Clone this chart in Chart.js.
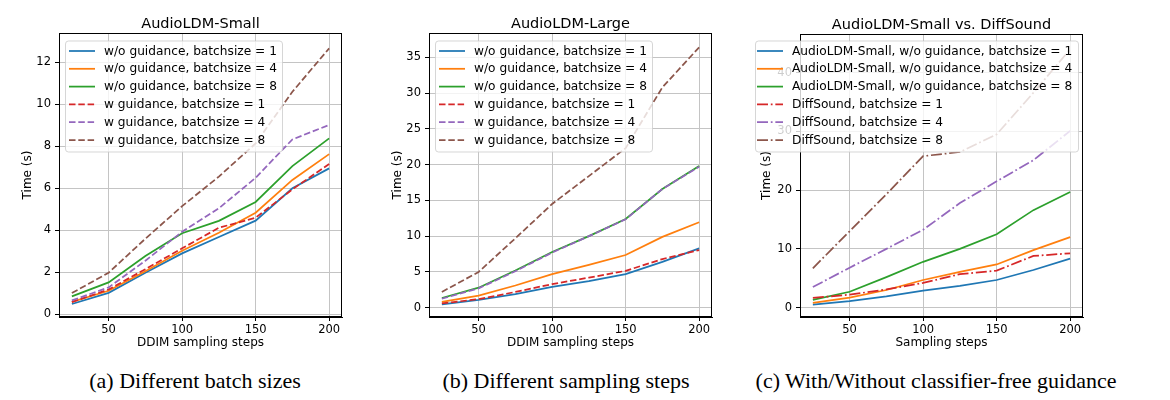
<!DOCTYPE html>
<html><head><meta charset="utf-8">
<script src="https://cdn.jsdelivr.net/npm/chart.js@4.4.1/dist/chart.umd.min.js"></script>
<style>
html,body{margin:0;padding:0;background:#fff;}
body{width:1170px;height:400px;position:relative;overflow:hidden;}
canvas{position:absolute;top:0;}
.cap{position:absolute;top:366px;height:30px;line-height:30px;font-family:"Liberation Serif","DejaVu Serif",serif;font-size:22px;color:#000;text-align:center;white-space:nowrap;}
</style></head>
<body>
<canvas id="c1" width="370" height="360" style="left:0px"></canvas>
<canvas id="c2" width="370" height="360" style="left:370px"></canvas>
<canvas id="c3" width="370" height="360" style="left:740px"></canvas>
<div class="cap" style="left:45px;width:300px">(a) Different batch sizes</div>
<div class="cap" style="left:416px;width:300px">(b) Different sampling steps</div>
<div class="cap" style="left:736px;width:400px">(c) With/Without classifier-free guidance</div>
<script>
// ---------- data ----------
const steps = [25, 50, 75, 100, 125, 150, 175, 200];
const xTickValues = [50, 100, 150, 200];

// (a) AudioLDM-Small
const smallNoGuid1 = [0.49, 1.02, 1.98, 2.9, 3.68, 4.46, 6.0, 6.95];
const smallNoGuid4 = [0.59, 1.12, 2.05, 3.03, 3.88, 4.84, 6.4, 7.63];
const smallNoGuid8 = [0.85, 1.52, 2.78, 3.86, 4.45, 5.35, 7.06, 8.38];
const smallGuid1   = [0.58, 1.18, 2.15, 3.14, 4.12, 4.6, 5.95, 7.16];
const smallGuid4   = [0.66, 1.28, 2.55, 3.93, 5.05, 6.5, 8.33, 9.02];
const smallGuid8   = [1.01, 1.98, 3.6, 5.15, 6.56, 8.14, 10.6, 12.67];

// (b) AudioLDM-Large
const largeNoGuid1 = [0.47, 1.1, 1.9, 2.9, 3.7, 4.7, 6.4, 8.3];
const largeNoGuid4 = [0.8, 1.7, 3.1, 4.7, 6.0, 7.36, 9.9, 11.95];
const largeNoGuid8 = [1.36, 2.8, 5.2, 7.78, 10.0, 12.4, 16.6, 19.8];
const largeGuid1   = [0.6, 1.2, 2.2, 3.3, 4.2, 5.15, 6.8, 8.06];
const largeGuid4   = [1.25, 2.7, 5.1, 7.7, 10.0, 12.35, 16.6, 19.7];
const largeGuid8   = [2.2, 5.0, 9.7, 14.5, 18.4, 22.3, 30.8, 36.4];

// (c) AudioLDM-Small vs. DiffSound
const cmpSmall1 = [0.5, 1.1, 1.9, 2.9, 3.7, 4.7, 6.4, 8.35];
const cmpSmall4 = [0.8, 1.7, 3.0, 4.7, 6.1, 7.35, 9.8, 12.0];
const cmpSmall8 = [1.3, 2.7, 5.2, 7.8, 10.0, 12.5, 16.6, 19.7];
const diffSound1 = [1.65, 2.2, 3.1, 4.2, 5.7, 6.3, 8.8, 9.25];
const diffSound4 = [3.5, 6.8, 10.0, 13.26, 17.8, 21.5, 25.1, 30.1];
const diffSound8 = [6.7, 13.0, 19.3, 25.8, 26.5, 29.5, 36.6, 44.0];

// tick labels
const yTicksA = [0, 2, 4, 6, 8, 10, 12];
const yTicksB = [0, 5, 10, 15, 20, 25, 30, 35];
const yTicksC = [0, 10, 20, 30, 40];

// texts
const labelsAB = [
  'w/o guidance, batchsize = 1',
  'w/o guidance, batchsize = 4',
  'w/o guidance, batchsize = 8',
  'w guidance, batchsize = 1',
  'w guidance, batchsize = 4',
  'w guidance, batchsize = 8'
];
const labelsC = [
  'AudioLDM-Small, w/o guidance, batchsize = 1',
  'AudioLDM-Small, w/o guidance, batchsize = 4',
  'AudioLDM-Small, w/o guidance, batchsize = 8',
  'DiffSound, batchsize = 1',
  'DiffSound, batchsize = 4',
  'DiffSound, batchsize = 8'
];

// ---------- styles ----------
const colors = ['#1f77b4', '#ff7f0e', '#2ca02c', '#d62728', '#9467bd', '#8c564b'];
const SOLID = [], DASHED = [6.5, 2.8], DASHDOT = [11, 2.8, 1.75, 2.8];
const FONT = '"DejaVu Sans", sans-serif';

const deco = {
  id: 'deco',
  afterDraw(chart) {
    const o = chart.options.plugins.deco;
    const ctx = chart.ctx, a = chart.chartArea;
    ctx.save();
    // spines
    ctx.strokeStyle = '#000';
    ctx.lineWidth = 1;
    ctx.strokeRect(Math.round(a.left) + 0.5, Math.round(a.top) + 0.5,
                   Math.round(a.right - a.left) - 1, Math.round(a.bottom - a.top) - 1);
    const cx = (a.left + a.right) / 2;
    ctx.fillStyle = '#000';
    ctx.textAlign = 'center';
    ctx.textBaseline = 'middle';
    ctx.font = '14.5px ' + FONT;
    ctx.fillText(o.title, cx, a.top - 9);
    ctx.font = '12px ' + FONT;
    ctx.fillText(o.xTitle, cx, a.bottom + 26);
    ctx.save();
    ctx.translate(o.yTitleX, (a.top + a.bottom) / 2);
    ctx.rotate(-Math.PI / 2);
    ctx.fillText(o.yTitle, 0, 0);
    ctx.restore();
    // legend
    const L = o.legend;
    ctx.beginPath();
    if (ctx.roundRect) ctx.roundRect(L.x + 0.5, L.y + 0.5, L.w, L.h, 3);
    else ctx.rect(L.x + 0.5, L.y + 0.5, L.w, L.h);
    ctx.fillStyle = 'rgba(255,255,255,0.8)';
    ctx.fill();
    ctx.strokeStyle = 'rgba(204,204,204,0.8)';
    ctx.lineWidth = 1;
    ctx.stroke();
    ctx.textAlign = 'left';
    ctx.font = '12.2px ' + FONT;
    chart.data.datasets.forEach((ds, i) => {
      const yy = L.y + L.first + i * L.step;
      ctx.beginPath();
      ctx.setLineDash(ds.borderDash || []);
      ctx.strokeStyle = ds.borderColor;
      ctx.lineWidth = ds.borderWidth;
      ctx.moveTo(L.hx, yy);
      ctx.lineTo(L.hx + 26, yy);
      ctx.stroke();
      ctx.setLineDash([]);
      ctx.fillStyle = '#000';
      ctx.fillText(ds.label, L.tx, yy + 0.5);
    });
    ctx.restore();
  }
};

function makeChart(id, series, labels, dashes, yMin, yMax, yTicks, area, decoOpts) {
  const datasets = series.map((vals, i) => ({
    label: labels[i],
    data: steps.map((s, k) => ({ x: s, y: vals[k] })),
    borderColor: colors[i],
    backgroundColor: colors[i],
    borderWidth: 1.75,
    borderDash: dashes[i],
    pointRadius: 0,
    tension: 0,
    fill: false,
    order: 10 - i
  }));
  return new Chart(document.getElementById(id), {
    type: 'line',
    data: { datasets },
    options: {
      responsive: false,
      animation: false,
      devicePixelRatio: 1,
      layout: { padding: { left: 0, top: area.top, right: 370 - area.right, bottom: 360 - area.bottom - 20 } },
      plugins: { legend: { display: false }, tooltip: { enabled: false }, title: { display: false }, deco: decoOpts },
      scales: {
        x: {
          type: 'linear', min: 16.25, max: 208.75,
          afterBuildTicks: s => { s.ticks = xTickValues.map(v => ({ value: v })); },
          afterFit: s => { s.height = 20; },
          ticks: { color: '#000', font: { family: FONT, size: 11.5 }, padding: 2, maxRotation: 0, callback: v => String(v) },
          grid: { color: '#c4c4c4', lineWidth: 1, tickLength: 4, tickColor: '#000', tickWidth: 1 },
          border: { color: '#000', width: 1 }
        },
        y: {
          type: 'linear', min: yMin, max: yMax,
          afterBuildTicks: s => { s.ticks = yTicks.map(v => ({ value: v })); },
          afterFit: s => { s.width = area.left; },
          ticks: { color: '#000', font: { family: FONT, size: 11.5 }, padding: 4, callback: v => String(v) },
          grid: { color: '#c4c4c4', lineWidth: 1, tickLength: 4, tickColor: '#000', tickWidth: 1 },
          border: { color: '#000', width: 1 }
        }
      }
    },
    plugins: [deco]
  });
}

const dashAB = [SOLID, SOLID, SOLID, DASHED, DASHED, DASHED];
const dashC = [SOLID, SOLID, SOLID, DASHDOT, DASHDOT, DASHDOT];

makeChart('c1',
  [smallNoGuid1, smallNoGuid4, smallNoGuid8, smallGuid1, smallGuid4, smallGuid8],
  labelsAB, dashAB, -0.13, 13.4, yTicksA,
  { left: 59, right: 342, top: 33, bottom: 317 },
  { title: 'AudioLDM-Small', xTitle: 'DDIM sampling steps', yTitle: 'Time (s)', yTitleX: 28,
    legend: { x: 65, y: 40.5, w: 217, h: 111, first: 10.5, step: 17.8, hx: 69, tx: 104 } });

makeChart('c2',
  [largeNoGuid1, largeNoGuid4, largeNoGuid8, largeGuid1, largeGuid4, largeGuid8],
  labelsAB, dashAB, -1.3, 38.4, yTicksB,
  { left: 59, right: 342, top: 33, bottom: 317 },
  { title: 'AudioLDM-Large', xTitle: 'DDIM sampling steps', yTitle: 'Time (s)', yTitleX: 28,
    legend: { x: 65, y: 40.5, w: 217, h: 111, first: 10.5, step: 17.8, hx: 69, tx: 104 } });

makeChart('c3',
  [cmpSmall1, cmpSmall4, cmpSmall8, diffSound1, diffSound4, diffSound8],
  labelsC, dashC, -1.6, 46.6, yTicksC,
  { left: 60, right: 343, top: 34, bottom: 317 },
  { title: 'AudioLDM-Small vs. DiffSound', xTitle: 'Sampling steps', yTitle: 'Time (s)', yTitleX: 27,
    legend: { x: 15, y: 40.5, w: 323, h: 111, first: 10.5, step: 17.8, hx: 17, tx: 52 } });
</script>
</body></html>
